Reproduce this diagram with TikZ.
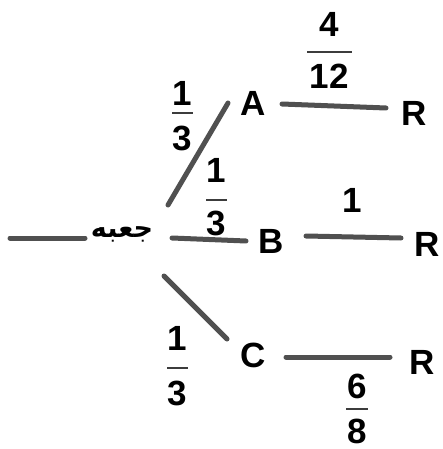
\documentclass[tikz,border=0pt]{standalone}
\usepackage{fontspec}
\setmainfont{Liberation Sans}
\newfontfamily\arabicfont[Script=Arabic]{DejaVu Sans}
\TeXXeTstate=1
\begin{document}
\begin{tikzpicture}[x=1pt,y=-1pt,
  lbl/.style={inner sep=0pt,font=\fontsize{35}{40}\selectfont\bfseries},
  seg/.style={line width=5pt,line cap=round,draw={rgb,255:red,80;green,80;blue,80}},
  fbar/.style={line width=1.3pt,draw={rgb,255:red,60;green,60;blue,60}}]
\useasboundingbox (0,0) rectangle (443,449);
% box label
\node[inner sep=0pt,font=\arabicfont\fontsize{27}{30}\selectfont\bfseries] (box) at (122,234) {\beginR جعبه\endR};
% letters
\node[lbl] (A) at (253,103) {A};
\node[lbl] (B) at (271,241) {B};
\node[lbl] (C) at (253,355) {C};
\node[lbl] (R1) at (414,113) {R};
\node[lbl] (R2) at (427,244) {R};
\node[lbl] (R3) at (422,362) {R};
% segment endpoints
\coordinate (l0) at (10,238); \coordinate (l1) at (85,238);
\coordinate (a0) at (168,205); \coordinate (a1) at (228,103);
\coordinate (b0) at (172,238); \coordinate (b1) at (246,241);
\coordinate (c0) at (164,276); \coordinate (c1) at (227,339);
\coordinate (ar0) at (282,104); \coordinate (ar1) at (386,108);
\coordinate (br0) at (306,236); \coordinate (br1) at (401,238);
\coordinate (cr0) at (286,357); \coordinate (cr1) at (390,357);
\draw[seg] (l0) -- (l1);
\draw[seg] (a0) -- (a1);
\draw[seg] (b0) -- (b1);
\draw[seg] (c0) -- (c1);
\draw[seg] (ar0) -- (ar1);
\draw[seg] (br0) -- (br1);
\draw[seg] (cr0) -- (cr1);
% fraction 1/3 upper
\node[lbl] (f1n) at (182,93) {1};
\draw[fbar] (172,113) -- (193,113);
\node[lbl] (f1d) at (182,138) {3};
% fraction 1/3 middle
\node[lbl] (f2n) at (216,170) {1};
\draw[fbar] (206,200) -- (227,200);
\node[lbl] (f2d) at (216,223) {3};
% fraction 1/3 lower
\node[lbl] (f3n) at (177,338) {1};
\draw[fbar] (167,368) -- (188,368);
\node[lbl] (f3d) at (177,393) {3};
% 4/12
\node[lbl] (f4n) at (329,24) {4};
\draw[fbar] (307,52) -- (352,52);
\node[lbl] (f4d) at (329,76) {12};
% 1
\node[lbl] (f5) at (352,200) {1};
% 6/8
\node[lbl] (f6n) at (357,386) {6};
\draw[fbar] (346,409) -- (368,409);
\node[lbl] (f6d) at (357,431) {8};
\end{tikzpicture}
\end{document}
